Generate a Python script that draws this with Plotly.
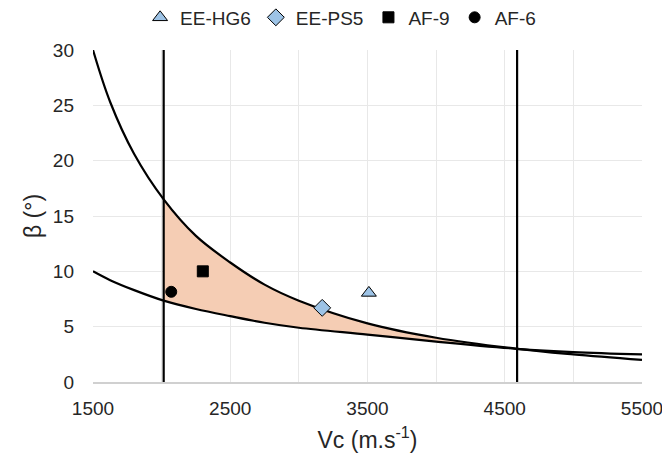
import plotly.graph_objects as go

# Curve readings (Vc in m/s, beta in degrees)
vc = [1500, 1625, 1800, 2015, 2250, 2500, 2750, 3000, 3500, 4000, 4590, 5000, 5500]
beta_upper = [30.0, 25.3, 20.6, 16.5, 13.2, 10.8, 8.8, 7.35, 5.3, 4.0, 3.0, 2.5, 2.0]
beta_lower = [10.0, 9.2, 8.3, 7.35, 6.6, 5.95, 5.35, 4.9, 4.28, 3.65, 3.0, 2.7, 2.49]

# Vertical limit lines
vc_limits = [2015, 4590]
beta_span = [0, 30]

# Shaded window: between the two limits
shade_start, shade_end = 3, 10  # indices in vc

# Measured points
series_names = ["EE-HG6", "EE-PS5", "AF-9", "AF-6"]
series_vc = [[3510], [3170], [2300], [2070]]
series_beta = [[8.05], [6.7], [10.0], [8.15]]
series_symbols = ["triangle-up", "diamond", "square", "circle"]
series_colors = ["#9DC3E6", "#9DC3E6", "#000000", "#000000"]
series_sizes = [13, 13, 11, 11]

fig = go.Figure()

# shaded region
fig.add_trace(go.Scatter(
    x=vc[shade_start:shade_end + 1], y=beta_lower[shade_start:shade_end + 1],
    mode="lines", line=dict(width=0, shape="spline", color="rgba(0,0,0,0)"),
    showlegend=False, hoverinfo="skip"))
fig.add_trace(go.Scatter(
    x=vc[shade_start:shade_end + 1], y=beta_upper[shade_start:shade_end + 1],
    mode="lines", line=dict(width=0, shape="spline", color="rgba(0,0,0,0)"),
    fill="tonexty", fillcolor="#F5CDB4", showlegend=False, hoverinfo="skip"))

# curves
fig.add_trace(go.Scatter(x=vc, y=beta_upper, mode="lines",
                         line=dict(color="black", width=2.2, shape="spline"),
                         showlegend=False))
fig.add_trace(go.Scatter(x=vc, y=beta_lower, mode="lines",
                         line=dict(color="black", width=2.2, shape="spline"),
                         showlegend=False))

# vertical limits
for v in vc_limits:
    fig.add_trace(go.Scatter(x=[v, v], y=beta_span, mode="lines",
                             line=dict(color="black", width=2.2),
                             showlegend=False))

# points
for name, xs, ys, sym, col, sz in zip(series_names, series_vc, series_beta,
                                      series_symbols, series_colors, series_sizes):
    fig.add_trace(go.Scatter(x=xs, y=ys, mode="markers", name=name,
                             marker=dict(symbol=sym, color=col, size=sz,
                                         line=dict(color="black", width=1))))

grid = "#E8E8E8"
fig.update_layout(
    width=662, height=452,
    margin=dict(l=85, r=28, t=42, b=78, autoexpand=False),
    paper_bgcolor="white", plot_bgcolor="white",
    font=dict(family="Liberation Sans, Arial, sans-serif", size=19, color="#262626"),
    legend=dict(orientation="h", traceorder="normal",
                x=0.451, xanchor="center",
                y=1.098, yanchor="middle",
                font=dict(size=19), itemwidth=30, tracegroupgap=0),
    xaxis=dict(range=[1500, 5500], tick0=1500, dtick=1000, showgrid=True,
               gridcolor=grid, gridwidth=1, zeroline=False,
               minor=dict(dtick=500, showgrid=True, gridcolor=grid),
               showline=True, linecolor="#D0D0D0", linewidth=1.5,
               ticks="", ticklabelstandoff=8, automargin=False,
               title=dict(text="Vc (m.s<sup>-1</sup>)", standoff=14)),
    yaxis=dict(range=[0, 30], dtick=5, showgrid=True, gridcolor=grid,
               zeroline=False, showline=False, ticks="",
               ticklabelstandoff=18, automargin=False,
               title=dict(text="β (°)", standoff=4)),
)

fig.write_html("out.html")
